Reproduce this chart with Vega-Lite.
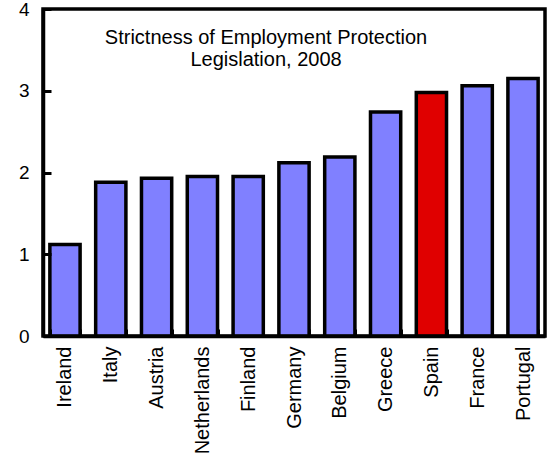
{
  "$schema": "https://vega.github.io/schema/vega-lite/v6.json",
  "autosize": "none",
  "width": 502,
  "height": 327,
  "padding": {"left": 43, "top": 9, "right": 5, "bottom": 130},
  "background": "white",
  "config": {
    "font": "Liberation Sans",
    "view": {"stroke": "black", "strokeWidth": 3.5}
  },
  "title": {
    "text": ["Strictness of Employment Protection", "Legislation, 2008"],
    "orient": "top",
    "anchor": "middle",
    "dx": -28,
    "offset": -70,
    "fontSize": 20,
    "fontWeight": "normal",
    "font": "Liberation Sans",
    "color": "black",
    "lineHeight": 22
  },
  "data": {
    "values": [
      {"country": "Ireland", "value": 1.12, "group": "other"},
      {"country": "Italy", "value": 1.88, "group": "other"},
      {"country": "Austria", "value": 1.93, "group": "other"},
      {"country": "Netherlands", "value": 1.95, "group": "other"},
      {"country": "Finland", "value": 1.95, "group": "other"},
      {"country": "Germany", "value": 2.12, "group": "other"},
      {"country": "Belgium", "value": 2.19, "group": "other"},
      {"country": "Greece", "value": 2.74, "group": "other"},
      {"country": "Spain", "value": 2.98, "group": "Spain"},
      {"country": "France", "value": 3.06, "group": "other"},
      {"country": "Portugal", "value": 3.15, "group": "other"}
    ]
  },
  "mark": {"type": "bar", "stroke": "black", "strokeWidth": 3.5},
  "encoding": {
    "x": {
      "field": "country",
      "type": "nominal",
      "sort": null,
      "scale": {"paddingInner": 0.34, "paddingOuter": 0.15},
      "axis": {
        "title": null,
        "zindex": 1,
        "labelAngle": -90,
        "labelAlign": "right",
        "labelBaseline": "middle",
        "labelFontSize": 20,
        "labelColor": "black",
        "labelPadding": 17,
        "ticks": true,
        "tickBand": "extent",
        "tickSize": -7,
        "tickWidth": 3,
        "tickColor": "black",
        "domainColor": "black",
        "domainWidth": 3.5
      }
    },
    "y": {
      "field": "value",
      "type": "quantitative",
      "scale": {"domain": [0, 4], "nice": false},
      "axis": {
        "title": null,
        "zindex": 1,
        "values": [0, 1, 2, 3, 4],
        "grid": false,
        "ticks": true,
        "labelFontSize": 19,
        "labelColor": "black",
        "labelPadding": 22,
        "tickSize": -8,
        "tickWidth": 3,
        "tickColor": "black",
        "domainColor": "black",
        "domainWidth": 3.5
      }
    },
    "fill": {
      "field": "group",
      "type": "nominal",
      "scale": {"domain": ["other", "Spain"], "range": ["#8080FF", "#E00000"]},
      "legend": null
    }
  }
}
